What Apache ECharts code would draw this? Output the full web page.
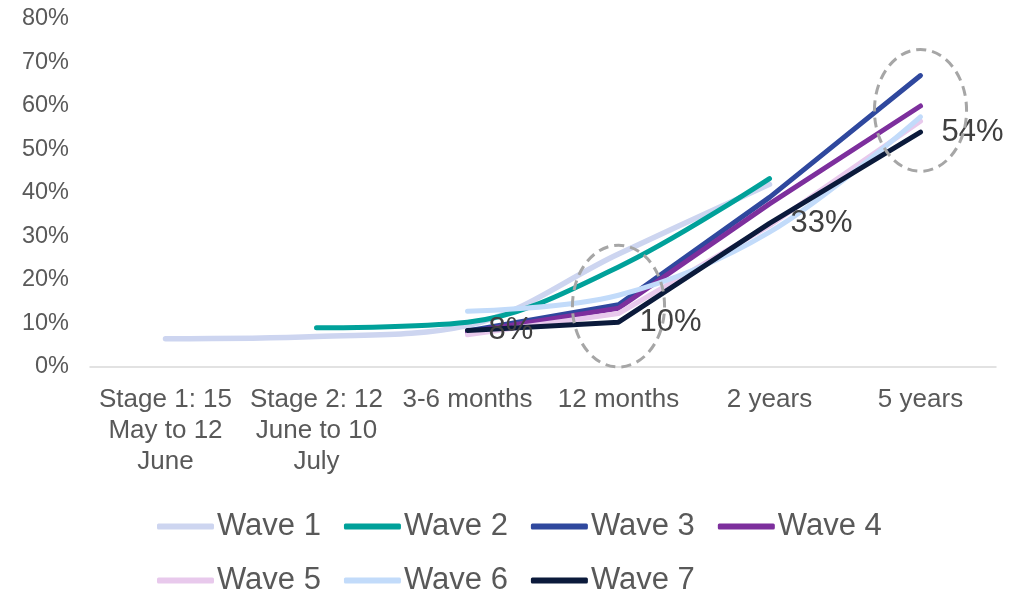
<!DOCTYPE html>
<html><head><meta charset="utf-8">
<script src="https://cdn.jsdelivr.net/npm/echarts@6/dist/echarts.min.js"></script>
<style>html,body{margin:0;padding:0;background:#fff}#c{width:1030px;height:592px}</style>
</head><body><div id="c"></div>
<script>
const categories = ['Stage 1: 15\nMay to 12\nJune', 'Stage 2: 12\nJune to 10\nJuly', '3-6 months', '12 months', '2 years', '5 years'];
const seriesNames = ['Wave 1', 'Wave 2', 'Wave 3', 'Wave 4', 'Wave 5', 'Wave 6', 'Wave 7'];
const wave1 = [6.5, 7.0, 9.5, 26, 42, null];
const wave2 = [null, 9.0, 10.3, 23, 43.3, null];
const wave3 = [null, null, 8.3, 14.3, 39, 67];
const wave4 = [null, null, 8.0, 13.5, 37.5, 60];
const wave5 = [null, null, 7.4, 12.3, 32.5, 56.5];
const wave6 = [null, null, 12.8, 16.5, 31, 57.5];
const wave7 = [null, null, 8.4, 10.3, 33, 54];
const wave7Labelled = [2, 3, 4, 5];
const yMin = 0, yMax = 80, yStep = 10;
const highlightA = [3, 14];   // ellipse around 12 months
const highlightB = [5, 59];   // ellipse around 5 years

const colors = ['#CDD5F0', '#00A19A', '#2F489E', '#7D2F9D', '#E8C9EC', '#C2DBFA', '#0B1A3B'];
const smoothFlags = [0.35, 0.35, false, false, false, 0.35, false];
const allData = [wave1, wave2, wave3, wave4, wave5, wave6, wave7];
const FONT = '"Liberation Sans", Arial, sans-serif';

const chart = echarts.init(document.getElementById('c'), null, {renderer: 'canvas'});

const series = allData.map((d, i) => {
  const s = {
    name: seriesNames[i],
    type: 'line',
    data: d,
    smooth: smoothFlags[i],
    showSymbol: false,
    symbol: 'none',
    connectNulls: false,
    lineStyle: {width: i === 0 ? 5.5 : 5, color: colors[i], cap: 'round', join: 'round'},
    itemStyle: {color: colors[i]},
    z: 2 + i
  };
  if (i === 6) {
    s.data = d.map((v, k) => wave7Labelled.includes(k) ? {
      value: v,
      label: {show: true, position: 'right', distance: 21, formatter: p => Math.round(p.value) + '%',
        color: '#404040', fontSize: 31, fontFamily: FONT, offset: [0, 2]}
    } : v);
    s.symbol = 'circle';
    s.symbolSize = 0.1;
    s.showSymbol = true;
    s.labelLayout = {hideOverlap: false};
  }
  return s;
});

chart.setOption({
  animation: false,
  backgroundColor: '#fff',
  textStyle: {fontFamily: FONT},
  grid: {left: 90, right: 34, top: 19, bottom: 225, containLabel: false},
  legend: {
    data: seriesNames,
    left: 152, top: 506, width: 790,
    orient: 'horizontal',
    itemWidth: 57, itemHeight: 6, itemGap: 23,
    icon: 'roundRect',
    textStyle: {fontSize: 31, color: '#595959', fontFamily: FONT, padding: [0, 0, 0, -2]}
  },
  xAxis: {
    type: 'category',
    data: categories,
    boundaryGap: true,
    axisLine: {show: true, lineStyle: {color: '#D9D9D9', width: 1.5}},
    axisTick: {show: false},
    splitLine: {show: false},
    axisLabel: {color: '#595959', fontSize: 26, lineHeight: 31, margin: 17, interval: 0, fontFamily: FONT}
  },
  yAxis: {
    type: 'value',
    min: yMin, max: yMax, interval: yStep,
    axisLine: {show: false},
    axisTick: {show: false},
    splitLine: {show: false},
    axisLabel: {color: '#595959', fontSize: 23.5, margin: 21, formatter: '{value}%', fontFamily: FONT}
  },
  series: series
});

function ellipseAt(pt) {
  const c = chart.convertToPixel({gridIndex: 0}, pt);
  const p0 = chart.convertToPixel({gridIndex: 0}, [0, 0]);
  const p1 = chart.convertToPixel({gridIndex: 0}, [1, 14]);
  const band = p1[0] - p0[0];
  const ry = p0[1] - p1[1];
  return {
    type: 'ellipse',
    z: 100,
    shape: {cx: c[0], cy: c[1], rx: band * 0.305, ry: ry},
    style: {fill: 'none', stroke: '#A6A6A6', lineWidth: 3, lineDash: [10, 6]}
  };
}
chart.setOption({graphic: [ellipseAt(highlightA), ellipseAt(highlightB)]});
</script>
</body></html>
